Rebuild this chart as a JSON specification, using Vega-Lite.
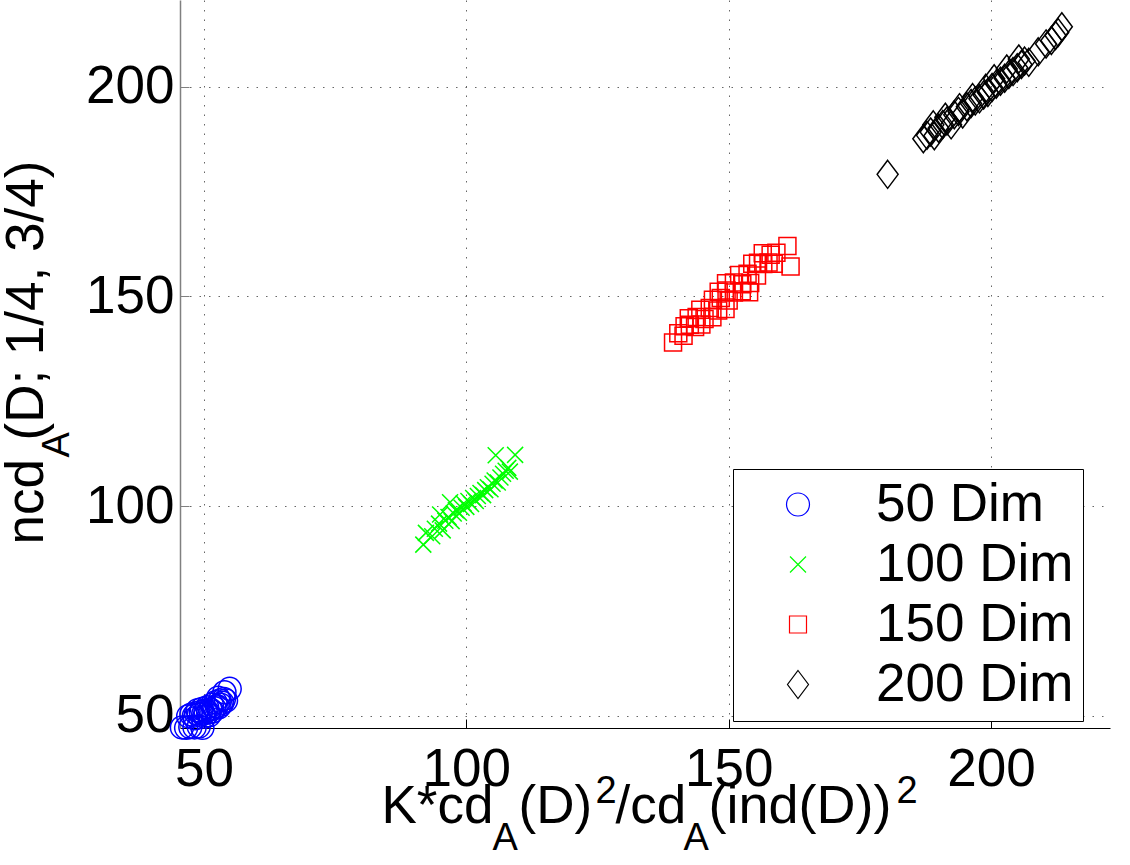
{
  "$schema": "https://vega.github.io/schema/vega-lite/v6.json",
  "width": 930,
  "height": 728,
  "autosize": {"type": "none"},
  "padding": {"left": 180, "top": 0, "right": 20, "bottom": 137},
  "background": "white",
  "config": {
    "font": "Liberation Sans",
    "view": {"stroke": null},
    "axis": {
      "labelFont": "Liberation Sans",
      "labelFontSize": 53,
      "labelColor": "black",
      "titleFont": "Liberation Sans",
      "titleFontWeight": "normal",
      "titleColor": "black",
      "gridColor": "#666666",
      "gridDash": [1.5, 8],
      "gridWidth": 1
    }
  },
  "data": {
    "values": [
      {"series": "50 Dim", "x": 45.8, "y": 47.2}, {"series": "50 Dim", "x": 46.6, "y": 47.1}, {"series": "50 Dim", "x": 47.4, "y": 47.3},
      {"series": "50 Dim", "x": 48.2, "y": 47.2}, {"series": "50 Dim", "x": 49.0, "y": 47.4}, {"series": "50 Dim", "x": 49.7, "y": 47.1},
      {"series": "50 Dim", "x": 47.0, "y": 49.9}, {"series": "50 Dim", "x": 47.6, "y": 50.3}, {"series": "50 Dim", "x": 48.1, "y": 50.0},
      {"series": "50 Dim", "x": 48.5, "y": 50.6}, {"series": "50 Dim", "x": 49.0, "y": 50.2}, {"series": "50 Dim", "x": 49.4, "y": 50.9},
      {"series": "50 Dim", "x": 49.9, "y": 50.5}, {"series": "50 Dim", "x": 50.3, "y": 51.2}, {"series": "50 Dim", "x": 50.8, "y": 50.8},
      {"series": "50 Dim", "x": 51.2, "y": 51.5}, {"series": "50 Dim", "x": 51.6, "y": 51.0}, {"series": "50 Dim", "x": 52.0, "y": 51.8},
      {"series": "50 Dim", "x": 52.4, "y": 52.3}, {"series": "50 Dim", "x": 52.8, "y": 52.0}, {"series": "50 Dim", "x": 53.2, "y": 52.6},
      {"series": "50 Dim", "x": 53.5, "y": 53.1}, {"series": "50 Dim", "x": 53.0, "y": 53.6}, {"series": "50 Dim", "x": 52.2, "y": 53.2},
      {"series": "50 Dim", "x": 51.5, "y": 52.6}, {"series": "50 Dim", "x": 50.6, "y": 52.0}, {"series": "50 Dim", "x": 49.6, "y": 51.6},
      {"series": "50 Dim", "x": 48.8, "y": 51.3}, {"series": "50 Dim", "x": 50.1, "y": 49.8}, {"series": "50 Dim", "x": 51.0, "y": 50.1},
      {"series": "50 Dim", "x": 53.8, "y": 54.0}, {"series": "50 Dim", "x": 54.2, "y": 53.6}, {"series": "50 Dim", "x": 53.9, "y": 55.6},
      {"series": "50 Dim", "x": 54.9, "y": 56.4}, {"series": "50 Dim", "x": 52.7, "y": 54.3}, {"series": "50 Dim", "x": 48.3, "y": 49.4},

      {"series": "100 Dim", "x": 91.8, "y": 90.8}, {"series": "100 Dim", "x": 92.3, "y": 93.6}, {"series": "100 Dim", "x": 93.5, "y": 92.8},
      {"series": "100 Dim", "x": 94.0, "y": 94.6}, {"series": "100 Dim", "x": 94.8, "y": 95.8}, {"series": "100 Dim", "x": 95.5, "y": 94.2},
      {"series": "100 Dim", "x": 96.0, "y": 96.5}, {"series": "100 Dim", "x": 96.6, "y": 97.4}, {"series": "100 Dim", "x": 97.2, "y": 96.4},
      {"series": "100 Dim", "x": 97.6, "y": 98.2}, {"series": "100 Dim", "x": 98.0, "y": 99.0}, {"series": "100 Dim", "x": 98.6, "y": 98.4},
      {"series": "100 Dim", "x": 99.1, "y": 99.6}, {"series": "100 Dim", "x": 99.5, "y": 100.6}, {"series": "100 Dim", "x": 100.0, "y": 99.8},
      {"series": "100 Dim", "x": 100.4, "y": 101.2}, {"series": "100 Dim", "x": 100.9, "y": 100.5}, {"series": "100 Dim", "x": 101.3, "y": 101.9},
      {"series": "100 Dim", "x": 101.8, "y": 101.2}, {"series": "100 Dim", "x": 102.2, "y": 102.4}, {"series": "100 Dim", "x": 102.7, "y": 103.1},
      {"series": "100 Dim", "x": 103.2, "y": 102.6}, {"series": "100 Dim", "x": 103.6, "y": 103.8}, {"series": "100 Dim", "x": 104.1, "y": 104.5},
      {"series": "100 Dim", "x": 104.6, "y": 104.0}, {"series": "100 Dim", "x": 105.0, "y": 105.3}, {"series": "100 Dim", "x": 105.4, "y": 106.1},
      {"series": "100 Dim", "x": 106.0, "y": 105.6}, {"series": "100 Dim", "x": 106.5, "y": 106.8}, {"series": "100 Dim", "x": 107.0, "y": 107.7},
      {"series": "100 Dim", "x": 107.5, "y": 108.4}, {"series": "100 Dim", "x": 108.0, "y": 109.1}, {"series": "100 Dim", "x": 108.3, "y": 108.2},
      {"series": "100 Dim", "x": 105.6, "y": 112.1}, {"series": "100 Dim", "x": 109.3, "y": 112.2}, {"series": "100 Dim", "x": 96.9, "y": 100.9},
      {"series": "100 Dim", "x": 95.0, "y": 98.0},

      {"series": "150 Dim", "x": 139.4, "y": 139.0}, {"series": "150 Dim", "x": 140.4, "y": 141.2}, {"series": "150 Dim", "x": 141.4, "y": 140.6},
      {"series": "150 Dim", "x": 141.6, "y": 142.9}, {"series": "150 Dim", "x": 142.6, "y": 143.2}, {"series": "150 Dim", "x": 143.6, "y": 142.7},
      {"series": "150 Dim", "x": 144.8, "y": 143.3}, {"series": "150 Dim", "x": 142.4, "y": 144.8}, {"series": "150 Dim", "x": 143.9, "y": 145.1},
      {"series": "150 Dim", "x": 145.4, "y": 144.6}, {"series": "150 Dim", "x": 146.9, "y": 145.0}, {"series": "150 Dim", "x": 144.6, "y": 146.8},
      {"series": "150 Dim", "x": 146.4, "y": 147.2}, {"series": "150 Dim", "x": 148.0, "y": 146.6}, {"series": "150 Dim", "x": 149.4, "y": 147.0},
      {"series": "150 Dim", "x": 147.0, "y": 149.2}, {"series": "150 Dim", "x": 148.5, "y": 149.6}, {"series": "150 Dim", "x": 150.0, "y": 149.0},
      {"series": "150 Dim", "x": 148.1, "y": 151.1}, {"series": "150 Dim", "x": 149.6, "y": 151.4}, {"series": "150 Dim", "x": 151.0, "y": 150.9},
      {"series": "150 Dim", "x": 152.5, "y": 151.2}, {"series": "150 Dim", "x": 153.9, "y": 151.0}, {"series": "150 Dim", "x": 149.5, "y": 153.1},
      {"series": "150 Dim", "x": 151.0, "y": 153.3}, {"series": "150 Dim", "x": 152.6, "y": 152.9}, {"series": "150 Dim", "x": 154.1, "y": 153.2},
      {"series": "150 Dim", "x": 152.0, "y": 155.1}, {"series": "150 Dim", "x": 153.6, "y": 155.4}, {"series": "150 Dim", "x": 155.4, "y": 155.0},
      {"series": "150 Dim", "x": 154.5, "y": 157.8}, {"series": "150 Dim", "x": 155.6, "y": 158.0}, {"series": "150 Dim", "x": 156.6, "y": 157.7},
      {"series": "150 Dim", "x": 157.6, "y": 158.1}, {"series": "150 Dim", "x": 158.6, "y": 157.8}, {"series": "150 Dim", "x": 156.5, "y": 160.3},
      {"series": "150 Dim", "x": 158.0, "y": 159.9}, {"series": "150 Dim", "x": 159.1, "y": 160.4}, {"series": "150 Dim", "x": 161.2, "y": 162.0},
      {"series": "150 Dim", "x": 161.8, "y": 157.1},

      {"series": "200 Dim", "x": 180.3, "y": 179.1}, {"series": "200 Dim", "x": 187.1, "y": 187.6}, {"series": "200 Dim", "x": 187.8, "y": 188.4},
      {"series": "200 Dim", "x": 188.5, "y": 189.2}, {"series": "200 Dim", "x": 189.2, "y": 188.3}, {"series": "200 Dim", "x": 190.0, "y": 190.1},
      {"series": "200 Dim", "x": 189.0, "y": 190.9}, {"series": "200 Dim", "x": 190.8, "y": 191.0}, {"series": "200 Dim", "x": 191.6, "y": 191.8},
      {"series": "200 Dim", "x": 192.4, "y": 190.9}, {"series": "200 Dim", "x": 191.3, "y": 192.7}, {"series": "200 Dim", "x": 193.0, "y": 193.3},
      {"series": "200 Dim", "x": 193.8, "y": 194.1}, {"series": "200 Dim", "x": 194.6, "y": 193.5}, {"series": "200 Dim", "x": 194.0, "y": 195.0},
      {"series": "200 Dim", "x": 195.4, "y": 195.2}, {"series": "200 Dim", "x": 196.2, "y": 196.0}, {"series": "200 Dim", "x": 197.0, "y": 196.6},
      {"series": "200 Dim", "x": 196.5, "y": 197.4}, {"series": "200 Dim", "x": 197.8, "y": 197.1}, {"series": "200 Dim", "x": 198.6, "y": 198.0},
      {"series": "200 Dim", "x": 199.4, "y": 198.6}, {"series": "200 Dim", "x": 199.0, "y": 199.6}, {"series": "200 Dim", "x": 200.2, "y": 199.8},
      {"series": "200 Dim", "x": 201.0, "y": 200.6}, {"series": "200 Dim", "x": 201.8, "y": 201.3}, {"series": "200 Dim", "x": 200.6, "y": 201.9},
      {"series": "200 Dim", "x": 202.6, "y": 202.0}, {"series": "200 Dim", "x": 203.4, "y": 202.9}, {"series": "200 Dim", "x": 204.2, "y": 203.6},
      {"series": "200 Dim", "x": 203.0, "y": 204.2}, {"series": "200 Dim", "x": 205.0, "y": 204.5}, {"series": "200 Dim", "x": 205.8, "y": 205.3},
      {"series": "200 Dim", "x": 206.4, "y": 206.1}, {"series": "200 Dim", "x": 205.3, "y": 206.6}, {"series": "200 Dim", "x": 207.2, "y": 205.8},
      {"series": "200 Dim", "x": 209.0, "y": 208.3}, {"series": "200 Dim", "x": 210.5, "y": 210.2}, {"series": "200 Dim", "x": 211.5, "y": 211.0},
      {"series": "200 Dim", "x": 212.3, "y": 212.2}, {"series": "200 Dim", "x": 213.5, "y": 214.3}, {"series": "200 Dim", "x": 212.8, "y": 212.9}
    ]
  },
  "layer": [
    {
      "mark": {"type": "point", "filled": false, "strokeWidth": 1.5, "opacity": 1, "clip": false},
      "encoding": {
        "x": {
          "field": "x", "type": "quantitative",
          "scale": {"domain": [45.43, 222.68], "nice": false, "zero": false},
          "axis": {
            "orient": "bottom", "values": [50, 100, 150, 200], "grid": true,
            "domainColor": "black", "domainWidth": 1.2,
            "tickColor": "black", "tickSize": -9, "tickWidth": 1,
            "labelPadding": 24, "labelBaseline": "top", "labelAlign": "center",
            "title": "K*cd", "titleFontSize": 53, "titleAlign": "left", "titleBaseline": "alphabetic",
            "titleX": 201, "titleY": 94, "titleAnchor": null
          }
        },
        "y": {
          "field": "y", "type": "quantitative",
          "scale": {"domain": [47.07, 220.67], "nice": false, "zero": false},
          "axis": {
            "orient": "left", "values": [50, 100, 150, 200], "grid": true,
            "domainColor": "#808080", "domainWidth": 1.5,
            "tickColor": "#808080", "tickSize": -9, "tickWidth": 1,
            "labelPadding": 15, "labelAlign": "right", "labelBaseline": "middle",
            "title": "ncd", "titleFontSize": 53, "titleAngle": -90, "titleAlign": "left", "titleBaseline": "alphabetic",
            "titleX": -138, "titleY": 544, "titleAnchor": null
          }
        },
        "color": {
          "field": "series", "type": "nominal",
          "scale": {"domain": ["50 Dim", "100 Dim", "150 Dim", "200 Dim"], "range": ["#0000ff", "#00ff00", "#ff0000", "#000000"]},
          "legend": {
            "title": null, "orient": "none", "legendX": 553, "legendY": 469,
            "labelFont": "Liberation Sans", "labelFontSize": 53, "labelColor": "black", "labelLimit": 500,
            "padding": 9, "rowPadding": 6, "symbolOffset": 29.5, "labelOffset": 51.5,
            "strokeColor": "black", "fillColor": "white", "symbolStrokeWidth": 1.2
          }
        },
        "shape": {
          "field": "series", "type": "nominal",
          "scale": {"domain": ["50 Dim", "100 Dim", "150 Dim", "200 Dim"], "range": ["circle", "M-1,-1L1,1M-1,1L1,-1", "square", "M0,-1L0.75,0L0,1L-0.75,0Z"]}
        },
        "size": {
          "field": "series", "type": "nominal",
          "scale": {"type": "ordinal", "domain": ["50 Dim", "100 Dim", "150 Dim", "200 Dim"], "range": [529, 256, 289, 784]}
        }
      }
    },
    {
      "transform": [{"filter": "false"}],
      "mark": "point",
      "encoding": {
        "x": {"field": "x", "type": "quantitative", "scale": {"domain": [45.43, 222.68], "nice": false, "zero": false},
          "axis": {"orient": "bottom", "domain": false, "ticks": false, "labels": false, "grid": false,
            "title": "A", "titleFontSize": 38, "titleAlign": "left", "titleBaseline": "alphabetic", "titleX": 312, "titleY": 121, "titleAnchor": null}},
        "y": {"field": "y", "type": "quantitative", "scale": {"domain": [47.07, 220.67], "nice": false, "zero": false},
          "axis": {"orient": "left", "domain": false, "ticks": false, "labels": false, "grid": false,
            "title": "A", "titleFontSize": 38, "titleAngle": -90, "titleAlign": "left", "titleBaseline": "alphabetic", "titleX": -112, "titleY": 457, "titleAnchor": null}}
      }
    },
    {
      "transform": [{"filter": "false"}],
      "mark": "point",
      "encoding": {
        "x": {"field": "x", "type": "quantitative", "scale": {"domain": [45.43, 222.68], "nice": false, "zero": false},
          "axis": {"orient": "bottom", "domain": false, "ticks": false, "labels": false, "grid": false,
            "title": "(D)", "titleFontSize": 53, "titleAlign": "left", "titleBaseline": "alphabetic", "titleX": 338, "titleY": 94, "titleAnchor": null}},
        "y": {"field": "y", "type": "quantitative", "scale": {"domain": [47.07, 220.67], "nice": false, "zero": false},
          "axis": {"orient": "left", "domain": false, "ticks": false, "labels": false, "grid": false,
            "title": "(D; 1/4, 3/4)", "titleFontSize": 53, "titleAngle": -90, "titleAlign": "left", "titleBaseline": "alphabetic", "titleX": -138, "titleY": 440, "titleAnchor": null}}
      }
    },
    {
      "transform": [{"filter": "false"}],
      "mark": "point",
      "encoding": {
        "x": {"field": "x", "type": "quantitative", "scale": {"domain": [45.43, 222.68], "nice": false, "zero": false},
          "axis": {"orient": "bottom", "domain": false, "ticks": false, "labels": false, "grid": false,
            "title": "2", "titleFontSize": 38, "titleAlign": "left", "titleBaseline": "alphabetic", "titleX": 415, "titleY": 74, "titleAnchor": null}}
      }
    },
    {
      "transform": [{"filter": "false"}],
      "mark": "point",
      "encoding": {
        "x": {"field": "x", "type": "quantitative", "scale": {"domain": [45.43, 222.68], "nice": false, "zero": false},
          "axis": {"orient": "bottom", "domain": false, "ticks": false, "labels": false, "grid": false,
            "title": "/cd", "titleFontSize": 53, "titleAlign": "left", "titleBaseline": "alphabetic", "titleX": 435, "titleY": 94, "titleAnchor": null}}
      }
    },
    {
      "transform": [{"filter": "false"}],
      "mark": "point",
      "encoding": {
        "x": {"field": "x", "type": "quantitative", "scale": {"domain": [45.43, 222.68], "nice": false, "zero": false},
          "axis": {"orient": "bottom", "domain": false, "ticks": false, "labels": false, "grid": false,
            "title": "A", "titleFontSize": 38, "titleAlign": "left", "titleBaseline": "alphabetic", "titleX": 503, "titleY": 121, "titleAnchor": null}}
      }
    },
    {
      "transform": [{"filter": "false"}],
      "mark": "point",
      "encoding": {
        "x": {"field": "x", "type": "quantitative", "scale": {"domain": [45.43, 222.68], "nice": false, "zero": false},
          "axis": {"orient": "bottom", "domain": false, "ticks": false, "labels": false, "grid": false,
            "title": "(ind(D))", "titleFontSize": 54, "titleAlign": "left", "titleBaseline": "alphabetic", "titleX": 528, "titleY": 94, "titleAnchor": null}}
      }
    },
    {
      "transform": [{"filter": "false"}],
      "mark": "point",
      "encoding": {
        "x": {"field": "x", "type": "quantitative", "scale": {"domain": [45.43, 222.68], "nice": false, "zero": false},
          "axis": {"orient": "bottom", "domain": false, "ticks": false, "labels": false, "grid": false,
            "title": "2", "titleFontSize": 38, "titleAlign": "left", "titleBaseline": "alphabetic", "titleX": 716, "titleY": 74, "titleAnchor": null}}
      }
    }
  ],
  "resolve": {"axis": {"x": "independent", "y": "independent"}}
}
